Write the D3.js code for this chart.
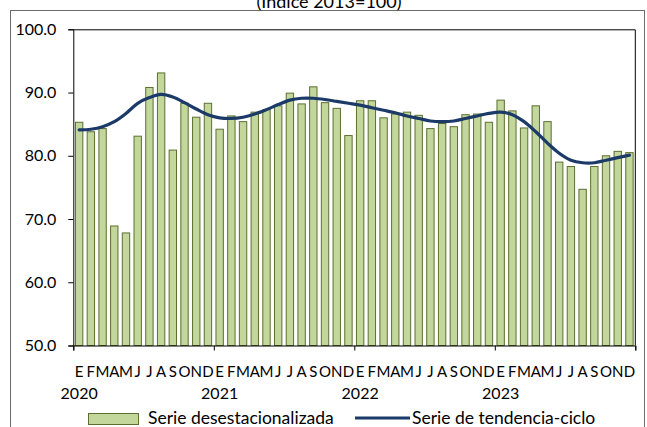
<!DOCTYPE html>
<html>
<head>
<meta charset="utf-8">
<script src="https://cdn.jsdelivr.net/npm/d3@7"></script>
<style>
  html, body { margin: 0; padding: 0; background: #fff; }
  svg { display: block; }
  text { font-family: Lato, "Liberation Sans", sans-serif; fill: #000; }
</style>
</head>
<body>
<svg width="647" height="427"></svg>
<script>
// datos de la grafica
const years = ["2020", "2021", "2022", "2023"]
const monthLetters = ["E", "F", "M", "A", "M", "J", "J", "A", "S", "O", "N", "D"]

const desestacionalizada = [
  85.3, 83.8, 84.3, 68.9, 67.8, 83.1, 90.8, 93.1, 80.9, 88.3, 86.1, 88.3,
  84.2, 86.3, 85.4, 86.9, 87.3, 87.9, 89.9, 88.2, 90.9, 88.4, 87.5, 83.2,
  88.7, 88.7, 86.0, 86.6, 86.9, 86.4, 84.3, 85.1, 84.6, 86.5, 86.6, 85.3,
  88.8, 87.1, 84.4, 87.9, 85.4, 79.0, 78.3, 74.7, 78.3, 80.0, 80.7, 80.5
]

const tendencia = [
  84.1, 84.2, 84.6, 85.4, 86.7, 88.3, 89.2, 89.7, 89.3, 88.4, 87.4, 86.5,
  86.0, 85.9, 86.1, 86.6, 87.3, 88.1, 88.8, 89.1, 89.1, 88.9, 88.6, 88.3,
  88.0, 87.6, 87.2, 86.8, 86.3, 85.9, 85.5, 85.4, 85.5, 85.9, 86.3, 86.7,
  86.9, 86.5, 85.4, 83.8, 82.0, 80.4, 79.3, 78.9, 78.9, 79.3, 79.7, 80.1
]

const yTicks = [50, 60, 70, 80, 90, 100]

const title = "(Índice 2013=100)"
const legendBars = "Serie desestacionalizada"
const legendLine = "Serie de tendencia-ciclo"

var barFill = "#c3d69b"
var barStroke = "#5b7030"
var lineColor = "#1b3a68"

const margin = {left: 73.3, right: 635.3, top: 29.3, bottom: 345.5}

const svg = d3.select("svg")

// marco exterior
svg.append("rect")
   .attr("x", 10.5).attr("y", 10.5)
   .attr("width", 634).attr("height", 430)
   .attr("fill", "none")
   .attr("stroke", "#6b6b6b")

// el titulo queda cortado por arriba, como en el original
svg.append("text")
   .attr("x", 329).attr("y", 8)
   .attr("text-anchor", "middle")
   .attr("font-size", "18px")
   .text(title)

const months = d3.range(desestacionalizada.length)

const x = d3.scaleBand()
   .domain(months)
   .range([margin.left, margin.right])
   .paddingInner(0.37)
   .paddingOuter(0.185)

const xl = d3.scaleLinear()
   .domain([0, months.length])
   .range([margin.left, margin.right])

const y = d3.scaleLinear()
   .domain([50, 100])
   .range([margin.bottom, margin.top])

// borde del area de trazado (arriba y derecha)
svg.append("path")
   .attr("d", `M${margin.left},${margin.top + 0.5}H${margin.right}V${margin.bottom}`)
   .attr("fill", "none")
   .attr("stroke", "#000")

// barras
svg.append("g")
   .selectAll("rect")
   .data(desestacionalizada)
   .join("rect")
   .attr("x", (d, i) => x(i))
   .attr("y", d => y(d))
   .attr("width", x.bandwidth())
   .attr("height", d => y(50) - y(d))
   .attr("fill", barFill)
   .attr("stroke", barStroke)
   .attr("stroke-width", 1)

// linea de tendencia
const line = d3.line()
   .x((d, i) => x(i) + x.bandwidth() / 2)
   .y(d => y(d))
   .curve(d3.curveCatmullRom.alpha(0.5))

svg.append("path")
   .datum(tendencia)
   .attr("d", line)
   .attr("fill", "none")
   .attr("stroke", lineColor)
   .attr("stroke-width", 3.2)
   .attr("stroke-linecap", "round")

// eje y
const yAxis = svg.append("g")
   .attr("transform", `translate(${margin.left},0)`)
   .call(d3.axisLeft(y).tickValues(yTicks).tickFormat(d3.format(".1f")).tickSize(5).tickPadding(12))
yAxis.select(".domain").attr("stroke", "#000")
yAxis.selectAll("text").attr("font-size", "16px").attr("font-family", "Lato, sans-serif")

// eje x, marcas en el cambio de año
const xAxis = svg.append("g")
   .attr("transform", `translate(0,${margin.bottom})`)
   .call(d3.axisBottom(xl).tickValues(d3.range(0, months.length + 1, 12)).tickFormat("").tickSize(5))
xAxis.select(".domain").attr("stroke", "#000")

// letras de los meses
svg.append("g")
   .selectAll("text")
   .data(months)
   .join("text")
   .attr("x", i => x(i) + x.bandwidth() / 2)
   .attr("y", 377)
   .attr("text-anchor", "middle")
   .attr("font-size", "15px")
   .text(i => monthLetters[i % 12])

// años
svg.append("g")
   .selectAll("text")
   .data(years)
   .join("text")
   .attr("x", (d, k) => x(k * 12) + x.bandwidth() / 2)
   .attr("y", 399)
   .attr("text-anchor", "middle")
   .attr("font-size", "16px")
   .text(d => d)

// leyenda
const legend = svg.append("g")
legend.append("rect")
   .attr("x", 88.5).attr("y", 413.5)
   .attr("width", 50).attr("height", 11)
   .attr("fill", barFill)
   .attr("stroke", barStroke)
legend.append("text")
   .attr("x", 148).attr("y", 424)
   .attr("font-size", "17.5px")
   .text(legendBars)
legend.append("line")
   .attr("x1", 355).attr("x2", 410)
   .attr("y1", 418).attr("y2", 418)
   .attr("stroke", lineColor)
   .attr("stroke-width", 3)
legend.append("text")
   .attr("x", 412).attr("y", 424)
   .attr("font-size", "17.5px")
   .text(legendLine)
</script>
</body>
</html>
